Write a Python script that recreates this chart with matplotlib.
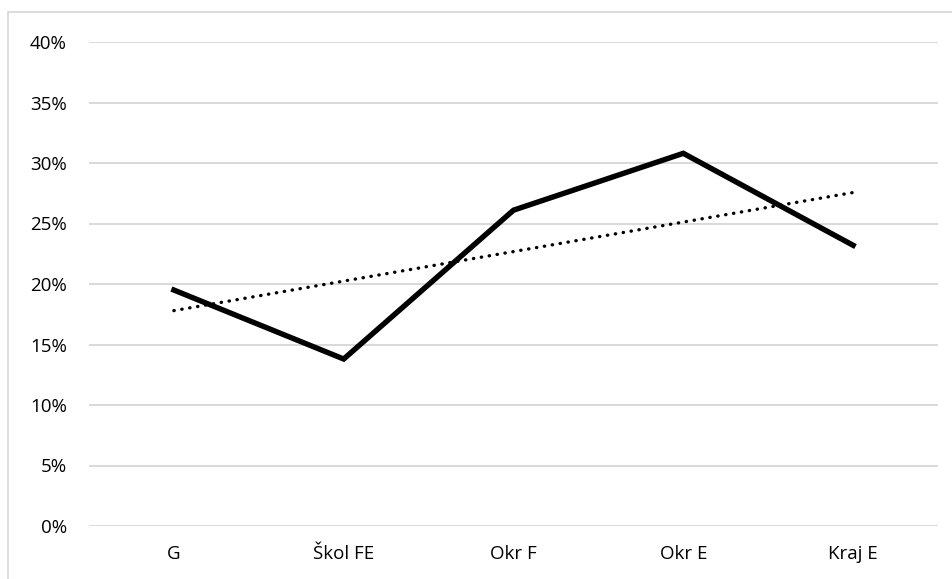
import numpy as np
import matplotlib
matplotlib.use("Agg")
import matplotlib.pyplot as plt
from matplotlib.patches import Rectangle
from matplotlib.ticker import PercentFormatter

categories = ["G", "Škol FE", "Okr F", "Okr E", "Kraj E"]
shares = [0.195, 0.138, 0.261, 0.308, 0.232]
y_ticks = [0.0, 0.05, 0.10, 0.15, 0.20, 0.25, 0.30, 0.35, 0.40]

plt.rcParams['font.family'] = ['Open Sans', 'DejaVu Sans']

W, H = 953, 579
fig = plt.figure(figsize=(W / 100, H / 100), dpi=100)
ax = fig.add_axes([89 / W, 53 / H, (938 - 89) / W, (526 - 42) / H])

# chart frame, clipped at the right and bottom of the image
fig.patches.append(Rectangle((8 / W, -0.1), 1.2, 1.1 - 12 / H,
                             transform=fig.transFigure, fill=False,
                             edgecolor='#d9d9d9', linewidth=1.3))

x = np.arange(len(categories))
ax.plot(x, shares, color='black', linewidth=3.9, solid_joinstyle='miter', zorder=3)

# linear trend line
k, b = np.polyfit(x, shares, 1)
ax.plot(x, k * x + b, color='black', linestyle=(0, (0.1, 2.3)), linewidth=2.4,
        dash_capstyle='round', zorder=4)

ax.set_xlim(-0.5, len(categories) - 0.5)
ax.set_ylim(0, 0.4)
ax.set_yticks(y_ticks)
ax.yaxis.set_major_formatter(PercentFormatter(1.0, decimals=0))
ax.set_xticks(x)
ax.set_xticklabels(categories)
ax.grid(axis='y', color='#d9d9d9', linewidth=1.4)
ax.set_axisbelow(True)
for s in ax.spines.values():
    s.set_visible(False)
ax.tick_params(length=0, labelsize=13.5, colors='black')
ax.tick_params(axis='y', pad=16)
ax.tick_params(axis='x', pad=14)

fig.savefig("out.png", dpi=100)
